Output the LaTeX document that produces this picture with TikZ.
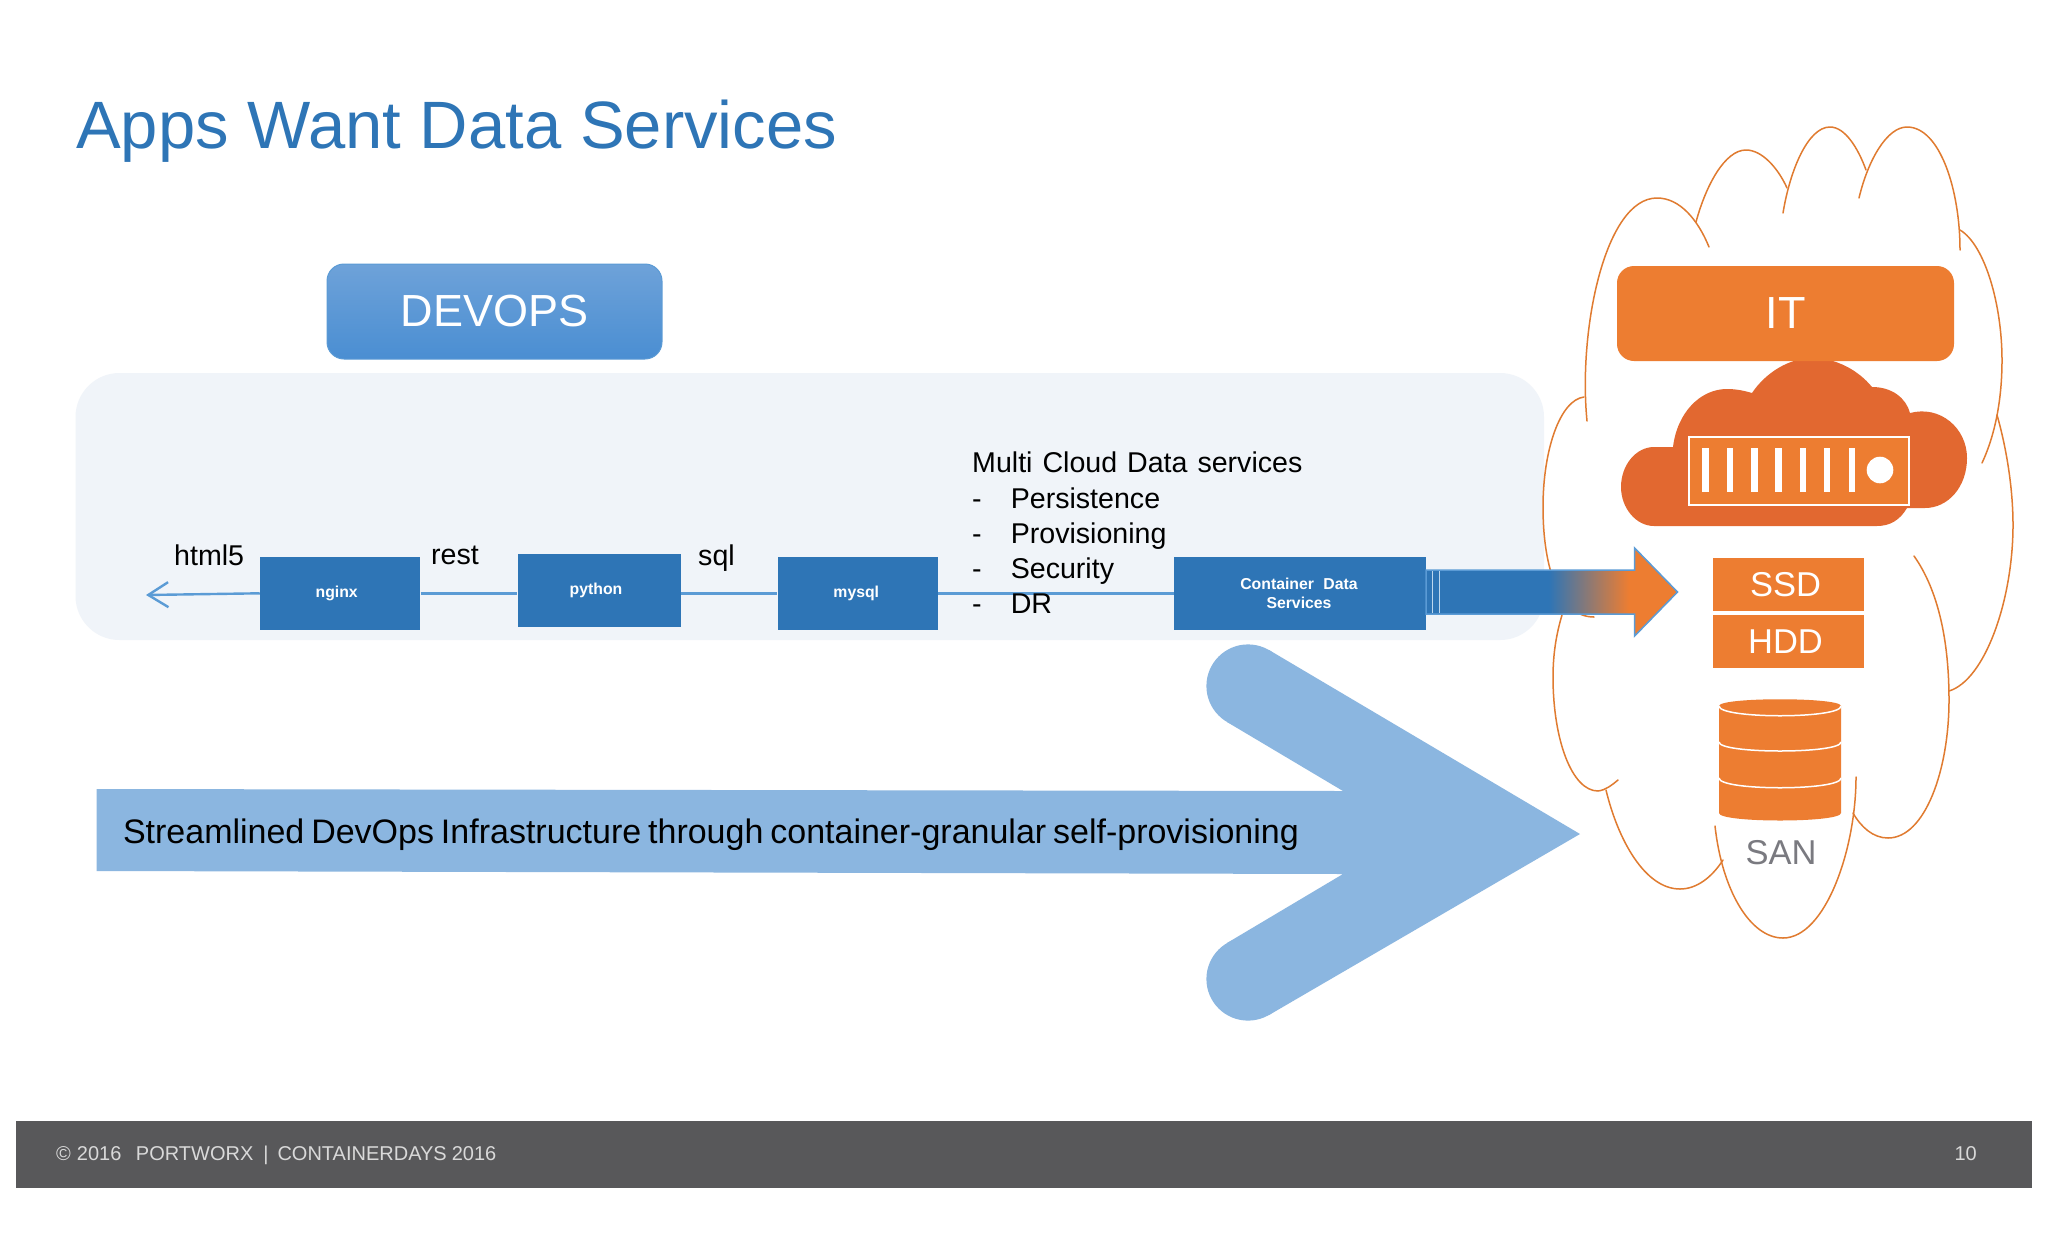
\documentclass[tikz,border=0pt]{standalone}
\usepackage{fontspec}
\setmainfont{Liberation Sans}
\usetikzlibrary{arrows.meta}
\definecolor{cblue}{HTML}{2E75B6}
\definecolor{clink}{HTML}{5B9BD5}
\definecolor{corange}{HTML}{ED7D31}
\definecolor{cdark}{HTML}{E26830}
\definecolor{cpanel}{HTML}{F0F4F9}
\definecolor{cbig}{HTML}{8BB6E0}
\definecolor{cfoot}{HTML}{58585A}
\definecolor{cline}{HTML}{E07B30}
\definecolor{cdevtop}{HTML}{6EA2D9}
\definecolor{cdevbot}{HTML}{4A8ED2}
\definecolor{csan}{HTML}{7A7A80}
\pgfdeclarehorizontalshading{flowshade}{100bp}{color(0bp)=(cblue); color(49.4bp)=(cblue); color(65.3bp)=(corange); color(100bp)=(corange)}
\newcommand{\fs}[1]{\fontsize{#1}{#1}\selectfont}
\tikzset{
  x=1pt,y=-1pt,
  appbox/.style={fill=cblue,text=white,inner sep=0pt,align=center,font=\fs{15.8}\bfseries},
  label text/.style={inner sep=0pt,anchor=base west,font=\fs{28.6},text=black},
  link/.style={draw=clink,line width=2.4pt},
  cloudline/.style={draw=cline,line width=1.5pt,line cap=round},
  storebox/.style={fill=corange,text=white,inner sep=0pt,minimum width=151pt,minimum height=53pt,font=\fs{34.5}},
  topbox/.style={rounded corners=17pt,inner sep=0pt,text=white,font=\fs{45}},
  whiteline/.style={draw=white,line width=1.5pt},
}
\begin{document}
\begin{tikzpicture}
\useasboundingbox (0,0) rectangle (2048,1243);
\fill[white] (0,0) rectangle (2048,1243);
% title
\node[inner sep=0pt,anchor=base west,font=\fs{67},text=cblue] (title) at (76,148) {Apps Want Data Services};
% panel
\fill[cpanel,rounded corners=44pt] (75.5,373) rectangle (1544,640);
% DEVOPS
\node[topbox,top color=cdevtop,bottom color=cdevbot,draw=clink,line width=1pt,minimum width=335pt,minimum height=95pt] (devops) at (494.5,311.5) {DEVOPS};
% cloud outline
\draw[cloudline] (1587,421) .. controls (1578,330) and (1605,198) .. (1657,198) .. controls (1680,198) and (1698,220) .. (1709,247);
\draw[cloudline] (1696,222) .. controls (1706,185) and (1725,150) .. (1746,150) .. controls (1762,150) and (1778,168) .. (1787,188);
\draw[cloudline] (1783,213) .. controls (1790,170) and (1808,127) .. (1830,127) .. controls (1845,127) and (1858,148) .. (1866,170);
\draw[cloudline] (1859,198) .. controls (1868,160) and (1887,127) .. (1907,127) .. controls (1940,127) and (1960,190) .. (1960,250);
\draw[cloudline] (1960,230) .. controls (1985,245) and (2002,305) .. (2002,360) .. controls (2002,400) and (1995,435) .. (1982,463);
\draw[cloudline] (1997,415) .. controls (2007,450) and (2013,490) .. (2013,525) .. controls (2013,600) and (1985,680) .. (1949,691);
\draw[cloudline] (1914,556) .. controls (1938,590) and (1949,640) .. (1949,700) .. controls (1949,770) and (1925,838) .. (1888,838) .. controls (1873,838) and (1861,827) .. (1853,813);
\draw[cloudline] (1856,777) .. controls (1856,850) and (1825,938) .. (1783,938) .. controls (1750,938) and (1722,890) .. (1715,826);
\draw[cloudline] (1723,860) .. controls (1712,877) and (1697,889) .. (1680,889) .. controls (1645,889) and (1618,840) .. (1606,790);
\draw[cloudline] (1618,780) .. controls (1612,785) and (1606,790) .. (1598,791) .. controls (1572,791) and (1553,740) .. (1553,677) .. controls (1553,655) and (1556,635) .. (1562,615);
\draw[cloudline] (1584,397) .. controls (1560,400) and (1543,450) .. (1543,507) .. controls (1543,570) and (1560,617) .. (1594,617);
% orange cloud
\fill[cdark] (1654,526) .. controls (1636,526) and (1621,508) .. (1621,487)
  .. controls (1621,465) and (1636,447) .. (1654,447) -- (1673,447)
  .. controls (1677,413) and (1700,389) .. (1727,389)
  .. controls (1737,389) and (1745,391) .. (1752,393)
  .. controls (1766,372) and (1790,358) .. (1812,358)
  .. controls (1836,358) and (1858,370) .. (1872,387)
  .. controls (1892,387) and (1906,398) .. (1910,413)
  .. controls (1940,405) and (1967,428) .. (1967,458)
  .. controls (1967,487) and (1948,508) .. (1925,508) -- (1907,508)
  .. controls (1900,520) and (1890,526) .. (1877,526) -- cycle;
% server
\draw[whiteline,fill=corange] (1689,437) rectangle (1909,505);
\foreach \bx in {1705.5,1730,1754.5,1778.6,1803,1827,1852} {
  \fill[white] (\bx-3.2,448) rectangle (\bx+3.2,492);
}
\fill[white] (1880,470) circle[radius=13.3pt];
% IT
\node[topbox,fill=corange,minimum width=337pt,minimum height=95pt] (it) at (1785.5,313.5) {\raisebox{-3pt}{IT}};
% SSD / HDD
\node[storebox] (ssd) at (1788,584.5) {\kern-5pt SSD};
\node[storebox] (hdd) at (1788,641.5) {\kern-5pt HDD};
% cylinder
\fill[corange] (1719,706) .. controls (1719,697) and (1841,697) .. (1841,706) -- (1841,813)
  .. controls (1841,823) and (1719,823) .. (1719,813) -- cycle;
\draw[whiteline] (1719,706) .. controls (1719,719) and (1841,719) .. (1841,706);
\draw[whiteline] (1719,742) .. controls (1719,754) and (1841,754) .. (1841,742);
\draw[whiteline] (1719,778) .. controls (1719,791) and (1841,791) .. (1841,778);
\node[inner sep=0pt,font=\fs{34.5},text=csan] (san) at (1781,853) {SAN};
% app boxes
\node[appbox,minimum width=160.5pt,minimum height=73.3pt] (nginx) at (340.2,593.3) {\kern-7pt nginx};
\node[appbox,minimum width=163pt,minimum height=73pt] (python) at (599,590.5) {\kern-6pt\raisebox{-2pt}{python}};
\node[appbox,minimum width=160.4pt,minimum height=73pt] (mysql) at (857.8,593.5) {\kern-3pt mysql};
\node[appbox,minimum width=252pt,minimum height=73pt] (cds) at (1300,593.5) {\kern-2pt Container\hspace{5pt} Data\\[3pt]\kern-2pt Services};
% links
\coordinate (tip) at (146,595);
\draw[link,-{Straight Barb[length=20pt,width=25pt]}] (nginx.west) -- (tip);
\draw[link] (nginx.east) -- (nginx.east -| python.west);
\draw[link] (python.east |- mysql.west) -- (mysql.west);
\draw[link] (mysql.east) -- (cds.west);
% labels
\node[label text] (html) at (174,565) {html5};
\node[label text] (rest) at (431,564) {rest};
\node[label text] (sql) at (698,565) {sql};
\node[inner sep=0pt,anchor=north west,align=left,font=\fontsize{28.6}{35.2}\selectfont,text=black] (multi) at (972,452)
 {Multi\hspace{2pt} Cloud\hspace{2pt} Data\hspace{2pt} services\\
  \makebox[38.6pt][l]{-}Persistence\\
  \makebox[38.6pt][l]{-}Provisioning\\
  \makebox[38.6pt][l]{-}Security\\
  \makebox[38.6pt][l]{-}DR};
% flow arrow
\path[shading=flowshade,draw=clink,line width=1.5pt,miter limit=10]
  (1426,570) -- (1634.6,570) -- (1634.6,548) -- (1677.5,592) -- (1634.6,636) -- (1634.6,614) -- (1426,614) -- cycle;
\draw[white!60!clink,line width=1pt] (1432,571) -- (1432,613);
\draw[white!60!clink,line width=1pt] (1439,571) -- (1439,613);
% big arrow
\fill[cbig] (1248,686) circle[radius=41.6pt];
\fill[cbig] (1248,979) circle[radius=41.6pt];
\fill[cbig] (96.6,789) -- (1343,791) -- (1227,722) -- (1269,650) -- (1580,834) -- (1269,1015) -- (1227,943) -- (1343,874) -- (96.6,871) -- cycle;
\node[inner sep=0pt,anchor=base west,font=\fs{34},text=black] (flow) at (122.8,843) {\spaceskip=6.9pt Streamlined DevOps Infrastructure through container-granular self-provisioning};
% footer
\fill[cfoot] (16.4,1121) rectangle (2032,1188);
\node[inner sep=0pt,anchor=base west,font=\fs{20},text=white!85!black] (foot) at (56,1160) {©\hspace{6pt}2016\hspace{14.5pt}PORTWORX\hspace{10pt}|\hspace{9pt}CONTAINERDAYS\hspace{5pt}2016};
\node[inner sep=0pt,anchor=base east,font=\fs{20},text=white!85!black] (page) at (1977,1160) {10};
\end{tikzpicture}
\end{document}
